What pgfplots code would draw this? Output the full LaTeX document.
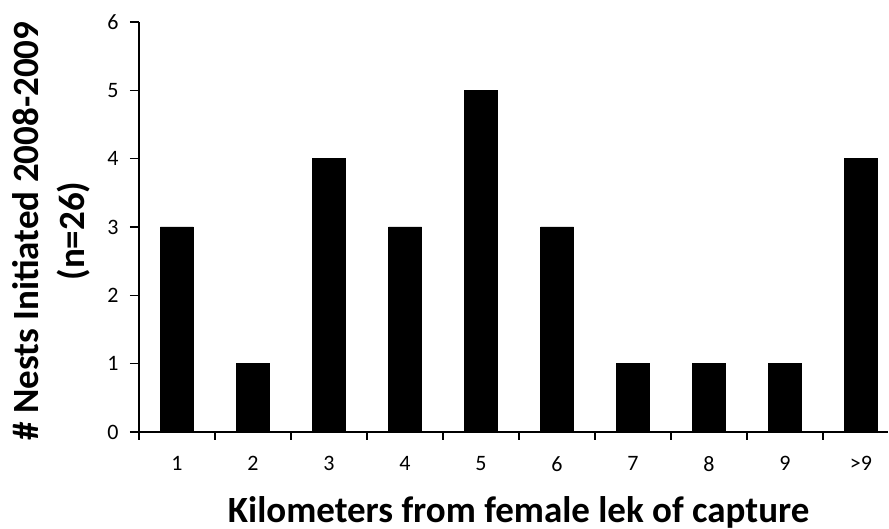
\documentclass[border=0pt]{standalone}
\usepackage{fontspec}
\setmainfont{Carlito}
\usepackage{pgfplots}
\pgfplotsset{compat=1.18}
\newcommand{\tl}{\fontsize{22}{26}\selectfont}
\begin{document}
\begin{tikzpicture}
\begin{axis}[
  at={(0,0)}, anchor=south west,
  scale only axis,
  width=749pt, height=410pt,
  xmin=0.5, xmax=10.355,
  ymin=0, ymax=6,
  axis x line*=bottom, axis y line*=left,
  axis line style={line width=1.3pt, -},
  ybar, bar width=33pt,
  xtick={1,2,3,4,5,6,7,8,9,10},
  xticklabels={{\tl 1},{\tl 2},{\tl 3},{\tl 4},{\tl 5},{\tl 6},{\tl 7},{\tl 8},{\tl 9},{\tl >9}},
  minor xtick={0.5,1.5,2.5,3.5,4.5,5.5,6.5,7.5,8.5,9.5},
  ytick={0,1,2,3,4,5,6},
  yticklabels={{\tl 0},{\tl 1},{\tl 2},{\tl 3},{\tl 4},{\tl 5},{\tl 6}},
  tick align=outside,
  major tick length=9pt,
  minor tick length=8pt,
  tick style={black, line width=1.3pt},
  minor tick style={black, line width=1.3pt},
  major x tick style={draw=none},
  xticklabel shift=12pt,
  yticklabel shift=8pt,
  xlabel={Kilometers from female lek of capture},
  ylabel={\# Nests Initiated 2008-2009\\(n=26)},
  xlabel style={font=\bfseries\fontsize{37}{44}\selectfont, at={(axis description cs:0.507,0)}, anchor=base, yshift=-91pt},
  ylabel style={font=\bfseries\fontsize{37}{46}\selectfont, at={(axis description cs:-0.1175,0.49)}, anchor=center, align=center},
]
\addplot[fill=black, draw=black] coordinates {(1,3) (2,1) (3,4) (4,3) (5,5) (6,3) (7,1) (8,1) (9,1) (10,4)};
\end{axis}
\pgfresetboundingbox
\path (-139pt,-97pt) rectangle (750pt,432pt);
\end{tikzpicture}
\end{document}
